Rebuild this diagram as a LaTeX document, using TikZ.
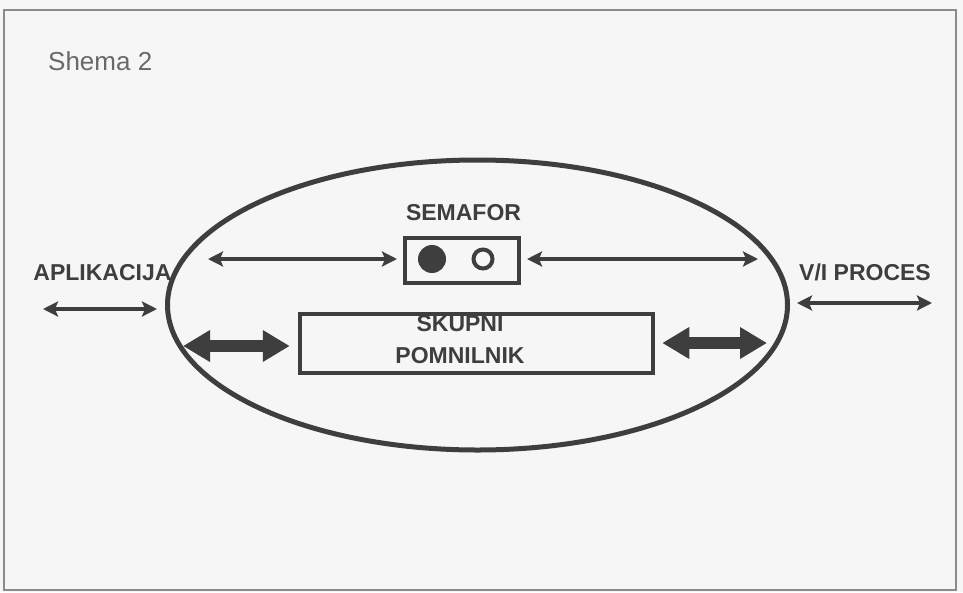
\documentclass[tikz,border=0pt]{standalone}
\usepackage{fontspec}
\setmainfont{Liberation Sans}
\usetikzlibrary{
    arrows.meta,
    positioning,
    shapes.geometric
}
\definecolor{InkGray}{RGB}{62,62,62}
\definecolor{FrameGray}{RGB}{140,140,140}
\definecolor{PaperWhite}{RGB}{246,246,246}
\definecolor{CaptionGray}{RGB}{105,105,105}

\begin{document}
\begin{tikzpicture}[
    x=1pt, y=-1pt,
    >=Stealth,
    caption/.style={font=\fontsize{23}{27}\selectfont\bfseries, text=InkGray, inner sep=0pt},
    thinarrow/.style={
        {Stealth[length=15pt,width=15pt,inset=3pt]}-{Stealth[length=15pt,width=15pt,inset=3pt]},
        line width=4.5pt, InkGray},
    thickarrow/.style={
        {Triangle[length=27pt,width=30pt]}-{Triangle[length=27pt,width=30pt]},
        line width=12pt, InkGray}
]

\useasboundingbox[fill=PaperWhite] (0,0) rectangle (963,592);
\draw[FrameGray, line width=2pt] (4,10) rectangle (956,590);

\node[anchor=base west, inner sep=0pt, text=CaptionGray,
      font=\fontsize{26}{30}\selectfont] (shema) at (48,70) {Shema 2};

% jedro
\node[draw=InkGray, ellipse, line width=5pt, inner sep=0pt,
      minimum width=620pt, minimum height=290pt] (jedro) at (477.5,305) {};

% semafor
\node[caption, anchor=base] (semaforime) at (463.5,220) {SEMAFOR};
\node[draw=InkGray, line width=4pt, inner sep=0pt,
      minimum width=114pt, minimum height=45pt] (semafor) at (462,260.5) {};
\node[circle, fill=InkGray, inner sep=0pt, minimum size=28pt] (luczaprta) at (432,259) {};
\node[circle, draw=InkGray, line width=4pt, inner sep=0pt, minimum size=19pt] (lucodprta) at (483,259) {};

% skupni pomnilnik
\node[draw=InkGray, line width=4.5pt, inner sep=0pt,
      minimum width=353pt, minimum height=59pt] (pomnilnik) at (476.5,343.5) {};
\node[caption, align=center] (pomnilnikime) at (460,340) {SKUPNI\\[5pt]POMNILNIK};

% zunanji deli
\node[caption, anchor=base] (aplikacija) at (102.5,280) {APLIKACIJA};
\node[caption, anchor=base] (vi) at (865,280) {V/I PROCES};

\coordinate (semL) at (208,259);
\coordinate (semR) at (758,259);
\coordinate (apL) at (43,309);
\coordinate (apR) at (157,309);
\coordinate (viL) at (797,303);
\coordinate (viR) at (932,303);
\coordinate (pomL) at (183,346);
\coordinate (pomR) at (767,343);

\draw[thinarrow, shorten >=6pt] (semL) -- (semafor.west |- semL);
\draw[thinarrow, shorten <=6pt] (semafor.east |- semR) -- (semR);
\draw[thinarrow] (apL) -- (apR);
\draw[thinarrow] (viL) -- (viR);

\draw[thickarrow, shorten >=8pt] (pomL) -- (pomnilnik.west |- pomL);
\draw[thickarrow, shorten <=7pt] (pomnilnik.east |- pomR) -- (pomR);

\end{tikzpicture}
\end{document}
